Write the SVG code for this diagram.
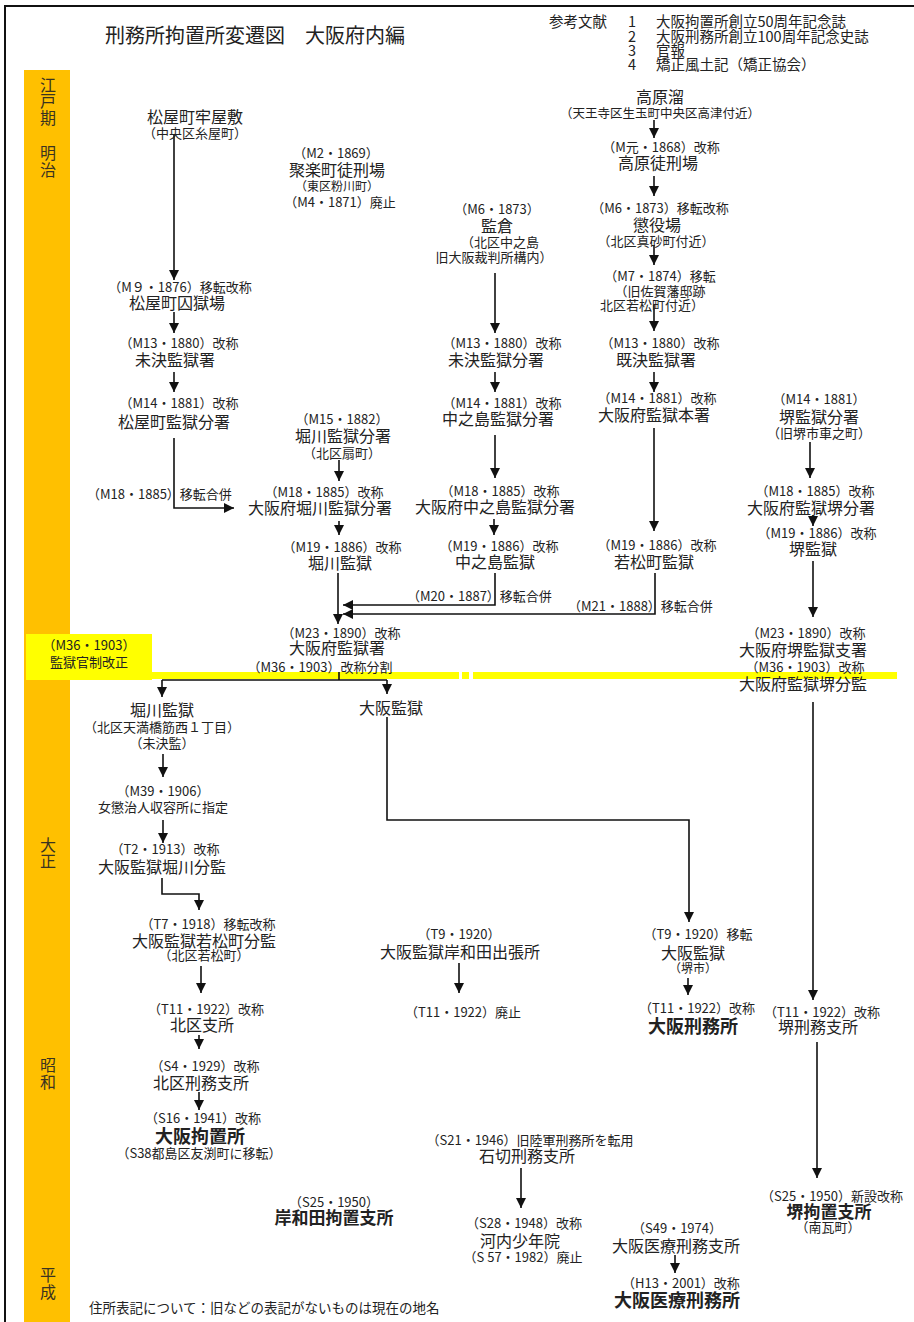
<svg xmlns="http://www.w3.org/2000/svg" width="914" height="1322" viewBox="0 0 914 1322">
<style>
text{font-family:"Noto Sans CJK JP","Noto Sans",sans-serif;fill:#222;text-anchor:middle}
.n{font-size:16px}
.d{font-size:13px}
.s{font-size:12.5px}
.b{font-size:18px;font-weight:bold}
.b17{font-size:17px;font-weight:bold}
.era{font-size:16px;fill:#3a3320}
.ref{font-size:14.5px;text-anchor:start}
.st{text-anchor:start}
#connectors path{fill:none;stroke:#111;stroke-width:1.6}
.arr{marker-end:url(#ah)}
</style>
<defs>
<marker id="ah" viewBox="0 0 10 10" refX="10" refY="5" markerWidth="10" markerHeight="10" markerUnits="userSpaceOnUse" orient="auto"><path d="M0,0L10,5L0,10z" fill="#111"/></marker>
</defs>
<rect width="914" height="1322" fill="#fff"/>
<rect x="5" y="6" width="930" height="1340" fill="none" stroke="#111" stroke-width="2"/>
<g id="timeline">
<rect x="24" y="70" width="46" height="1260" fill="#FFC000"/>
<rect x="26" y="634" width="126" height="46" fill="#FFFF00"/>
<rect x="152" y="672" width="307" height="7" fill="#FFFF00"/>
<rect x="462" y="672" width="7" height="7" fill="#FFFF00"/>
<rect x="473" y="672" width="424" height="7" fill="#FFFF00"/>
<text class="era" x="48" y="91">江</text>
<text class="era" x="48" y="107">戸</text>
<text class="era" x="48" y="124">期</text>
<text class="era" x="48" y="159">明</text>
<text class="era" x="48" y="176">治</text>
<text class="era" x="48" y="851">大</text>
<text class="era" x="48" y="867">正</text>
<text class="era" x="48" y="1071">昭</text>
<text class="era" x="48" y="1088">和</text>
<text class="era" x="48" y="1281">平</text>
<text class="era" x="48" y="1298">成</text>
<text class="d" x="89" y="650">（M36・1903）</text>
<text class="d" x="89" y="667">監獄官制改正</text>
</g>
<g id="header">
<text class="st" x="105" y="43" style="font-size:20px">刑務所拘置所変遷図　大阪府内編</text>
<text class="ref" x="549" y="27">参考文献</text>
<text class="ref" x="628" y="27">1</text>
<text class="ref" x="628" y="42">2</text>
<text class="ref" x="628" y="56">3</text>
<text class="ref" x="628" y="70">4</text>
<text class="ref" x="656" y="27">大阪拘置所創立50周年記念誌</text>
<text class="ref" x="656" y="42">大阪刑務所創立100周年記念史誌</text>
<text class="ref" x="656" y="56">官報</text>
<text class="ref" x="656" y="70">矯正風土記（矯正協会）</text>
</g>
<g id="connectors">
<path class="arr" d="M174,134V280"/>
<path class="arr" d="M174,312V333"/>
<path class="arr" d="M174,372V392"/>
<path class="arr" d="M174,438V508H234"/>
<path class="arr" d="M339,460V481"/>
<path class="arr" d="M339,521V535"/>
<path class="arr" d="M338,573V624"/>
<path class="arr" d="M495,273V333"/>
<path class="arr" d="M495,372V392"/>
<path class="arr" d="M495,435V478"/>
<path class="arr" d="M494,519V535"/>
<path class="arr" d="M495,573V605H343"/>
<path class="arr" d="M654,120V138"/>
<path class="arr" d="M654,176V196"/>
<path class="arr" d="M654,245V265"/>
<path class="arr" d="M654,305V331"/>
<path class="arr" d="M654,372V392"/>
<path class="arr" d="M654,428V531"/>
<path class="arr" d="M655,573V614H343"/>
<path class="arr" d="M810,442V478"/>
<path class="arr" d="M813,515V526"/>
<path class="arr" d="M813,561V617"/>
<path d="M339,672V680M162,680H387"/>
<path class="arr" d="M162,680V697"/>
<path class="arr" d="M387,680V694"/>
<path class="arr" d="M387,717V820H689V922"/>
<path class="arr" d="M163,754V777"/>
<path class="arr" d="M163,820V843"/>
<path class="arr" d="M162,878V894H199V910"/>
<path class="arr" d="M201,966V993"/>
<path class="arr" d="M199,1035V1049"/>
<path class="arr" d="M199,1092V1110"/>
<path class="arr" d="M813,702V1000"/>
<path class="arr" d="M459,963V993"/>
<path class="arr" d="M688,978V995"/>
<path class="arr" d="M817,1042V1178"/>
<path class="arr" d="M521,1168V1208"/>
<path class="arr" d="M675,1255V1273"/>
<text class="d st" x="87" y="499">（M18・1885）移転合併</text>
<text class="d st" x="407" y="601">（M20・1887）移転合併</text>
<text class="d st" x="568" y="611">（M21・1888）移転合併</text>
</g>
<g id="matsuya0"><text class="n" x="195" y="123">松屋町牢屋敷</text><text class="d" x="195" y="138">（中央区糸屋町）</text></g>
<g id="matsuya1"><text class="d" x="180" y="292">（M９・1876）移転改称</text><text class="n" x="177" y="309">松屋町囚獄場</text></g>
<g id="matsuya2"><text class="d" x="179" y="348">（M13・1880）改称</text><text class="n" x="175" y="366">未決監獄署</text></g>
<g id="matsuya3"><text class="d" x="179" y="408">（M14・1881）改称</text><text class="n" x="174" y="428">松屋町監獄分署</text></g>
<g id="juraku"><text class="d" x="336" y="158">（M2・1869）</text><text class="n" x="337" y="176">聚楽町徒刑場</text><text class="d" x="337" y="191" style="font-size:12px">（東区粉川町）</text><text class="d" x="340" y="207">（M4・1871）廃止</text></g>
<g id="horikawa0"><text class="d" x="342" y="424">（M15・1882）</text><text class="n" x="343" y="442">堀川監獄分署</text><text class="d" x="342" y="458">（北区扇町）</text></g>
<g id="horikawa1"><text class="d" x="324" y="497">（M18・1885）改称</text><text class="n" x="320" y="514">大阪府堀川監獄分署</text></g>
<g id="horikawa2"><text class="d" x="342" y="552">（M19・1886）改称</text><text class="n" x="340" y="569">堀川監獄</text></g>
<g id="kangokusho"><text class="d" x="341" y="638">（M23・1890）改称</text><text class="n" x="337" y="654">大阪府監獄署</text><text class="d" x="320" y="672">（M36・1903）改称分割</text></g>
<g id="kanso"><text class="d" x="497" y="214">（M6・1873）</text><text class="n" x="497" y="232">監倉</text><text class="d" x="500" y="247">（北区中之島</text><text class="d" x="494" y="262">旧大阪裁判所構内）</text></g>
<g id="nakanoshima1"><text class="d" x="502" y="348">（M13・1880）改称</text><text class="n" x="496" y="366">未決監獄分署</text></g>
<g id="nakanoshima2"><text class="d" x="502" y="408">（M14・1881）改称</text><text class="n" x="498" y="425">中之島監獄分署</text></g>
<g id="nakanoshima3"><text class="d" x="500" y="496">（M18・1885）改称</text><text class="n" x="495" y="513">大阪府中之島監獄分署</text></g>
<g id="nakanoshima4"><text class="d" x="499" y="551">（M19・1886）改称</text><text class="n" x="495" y="568">中之島監獄</text></g>
<g id="takahara0"><text class="n" x="660" y="103">高原溜</text><text class="s" x="660" y="118">（天王寺区生玉町中央区高津付近）</text></g>
<g id="takahara1"><text class="d" x="661" y="152">（M元・1868）改称</text><text class="n" x="658" y="169">高原徒刑場</text></g>
<g id="choekijo"><text class="d" x="660" y="213">（M6・1873）移転改称</text><text class="n" x="657" y="231">懲役場</text><text class="d" x="656" y="246">（北区真砂町付近）</text></g>
<g id="iten1874"><text class="d" x="660" y="281">（M7・1874）移転</text><text class="d" x="660" y="296">（旧佐賀藩邸跡</text><text class="d" x="652" y="310">北区若松町付近）</text></g>
<g id="kiketsu"><text class="d" x="660" y="348">（M13・1880）改称</text><text class="n" x="656" y="366">既決監獄署</text></g>
<g id="honsho"><text class="d" x="657" y="403">（M14・1881）改称</text><text class="n" x="654" y="421">大阪府監獄本署</text></g>
<g id="wakamatsu"><text class="d" x="657" y="550">（M19・1886）改称</text><text class="n" x="654" y="568">若松町監獄</text></g>
<g id="sakai0"><text class="d" x="819" y="404">（M14・1881）</text><text class="n" x="819" y="423">堺監獄分署</text><text class="d" x="819" y="438">（旧堺市車之町）</text></g>
<g id="sakai1"><text class="d" x="815" y="496">（M18・1885）改称</text><text class="n" x="811" y="514">大阪府監獄堺分署</text></g>
<g id="sakai2"><text class="d" x="817" y="538">（M19・1886）改称</text><text class="n" x="813" y="555">堺監獄</text></g>
<g id="sakai3"><text class="d" x="806" y="638">（M23・1890）改称</text><text class="n" x="803" y="656">大阪府堺監獄支署</text><text class="d" x="805" y="672">（M36・1903）改称</text><text class="n" x="803" y="690">大阪府監獄堺分監</text></g>
<g id="horikawa3"><text class="n" x="162" y="716">堀川監獄</text><text class="d" x="162" y="732">（北区天満橋筋西１丁目）</text><text class="d" x="162" y="748">（未決監）</text></g>
<g id="horikawa4"><text class="d" x="163" y="796">（M39・1906）</text><text class="d" x="163" y="812">女懲治人収容所に指定</text></g>
<g id="horikawa5"><text class="d" x="165" y="854">（T2・1913）改称</text><text class="n" x="162" y="873">大阪監獄堀川分監</text></g>
<g id="wakamatsu2"><text class="d" x="208" y="929">（T7・1918）移転改称</text><text class="n" x="204" y="947">大阪監獄若松町分監</text><text class="d" x="204" y="960">（北区若松町）</text></g>
<g id="kitaku1"><text class="d" x="206" y="1014">（T11・1922）改称</text><text class="n" x="202" y="1031">北区支所</text></g>
<g id="kitaku2"><text class="d" x="205" y="1071">（S4・1929）改称</text><text class="n" x="201" y="1089">北区刑務支所</text></g>
<g id="kochisho"><text class="d" x="203" y="1123">（S16・1941）改称</text><text class="b" x="200" y="1143">大阪拘置所</text><text class="d" x="199" y="1158">（S38都島区友渕町に移転）</text></g>
<g id="osaka0"><text class="n" x="391" y="714">大阪監獄</text></g>
<g id="kishiwada0"><text class="d" x="459" y="939">（T9・1920）</text><text class="n" x="460" y="958">大阪監獄岸和田出張所</text></g>
<g id="kishiwada1"><text class="d" x="463" y="1017">（T11・1922）廃止</text></g>
<g id="osaka1"><text class="d" x="698" y="939">（T9・1920）移転</text><text class="n" x="693" y="959">大阪監獄</text><text class="d" x="693" y="973" style="font-size:12px">（堺市）</text></g>
<g id="osaka2"><text class="d" x="697" y="1013">（T11・1922）改称</text><text class="b" x="693" y="1033">大阪刑務所</text></g>
<g id="sakai4"><text class="d" x="822" y="1017">（T11・1922）改称</text><text class="n" x="818" y="1033">堺刑務支所</text></g>
<g id="sakai5"><text class="d" x="832" y="1201">（S25・1950）新設改称</text><text class="b17" x="829" y="1218">堺拘置支所</text><text class="d" x="828" y="1232">（南瓦町）</text></g>
<g id="kishiwada2"><text class="d" x="334" y="1207">（S25・1950）</text><text class="b17" x="334" y="1224">岸和田拘置支所</text></g>
<g id="ishikiri"><text class="d" x="530" y="1145">（S21・1946）旧陸軍刑務所を転用</text><text class="n" x="527" y="1162">石切刑務支所</text></g>
<g id="kawachi"><text class="d" x="524" y="1228">（S28・1948）改称</text><text class="n" x="520" y="1247">河内少年院</text><text class="d" x="523" y="1262">（S 57・1982）廃止</text></g>
<g id="iryo0"><text class="d" x="677" y="1233">（S49・1974）</text><text class="n" x="676" y="1252">大阪医療刑務支所</text></g>
<g id="iryo1"><text class="d" x="681" y="1288">（H13・2001）改称</text><text class="b" x="677" y="1307">大阪医療刑務所</text></g>
<g id="note"><text class="st" x="89" y="1313" style="font-size:13.5px">住所表記について：旧などの表記がないものは現在の地名</text></g>
</svg>
